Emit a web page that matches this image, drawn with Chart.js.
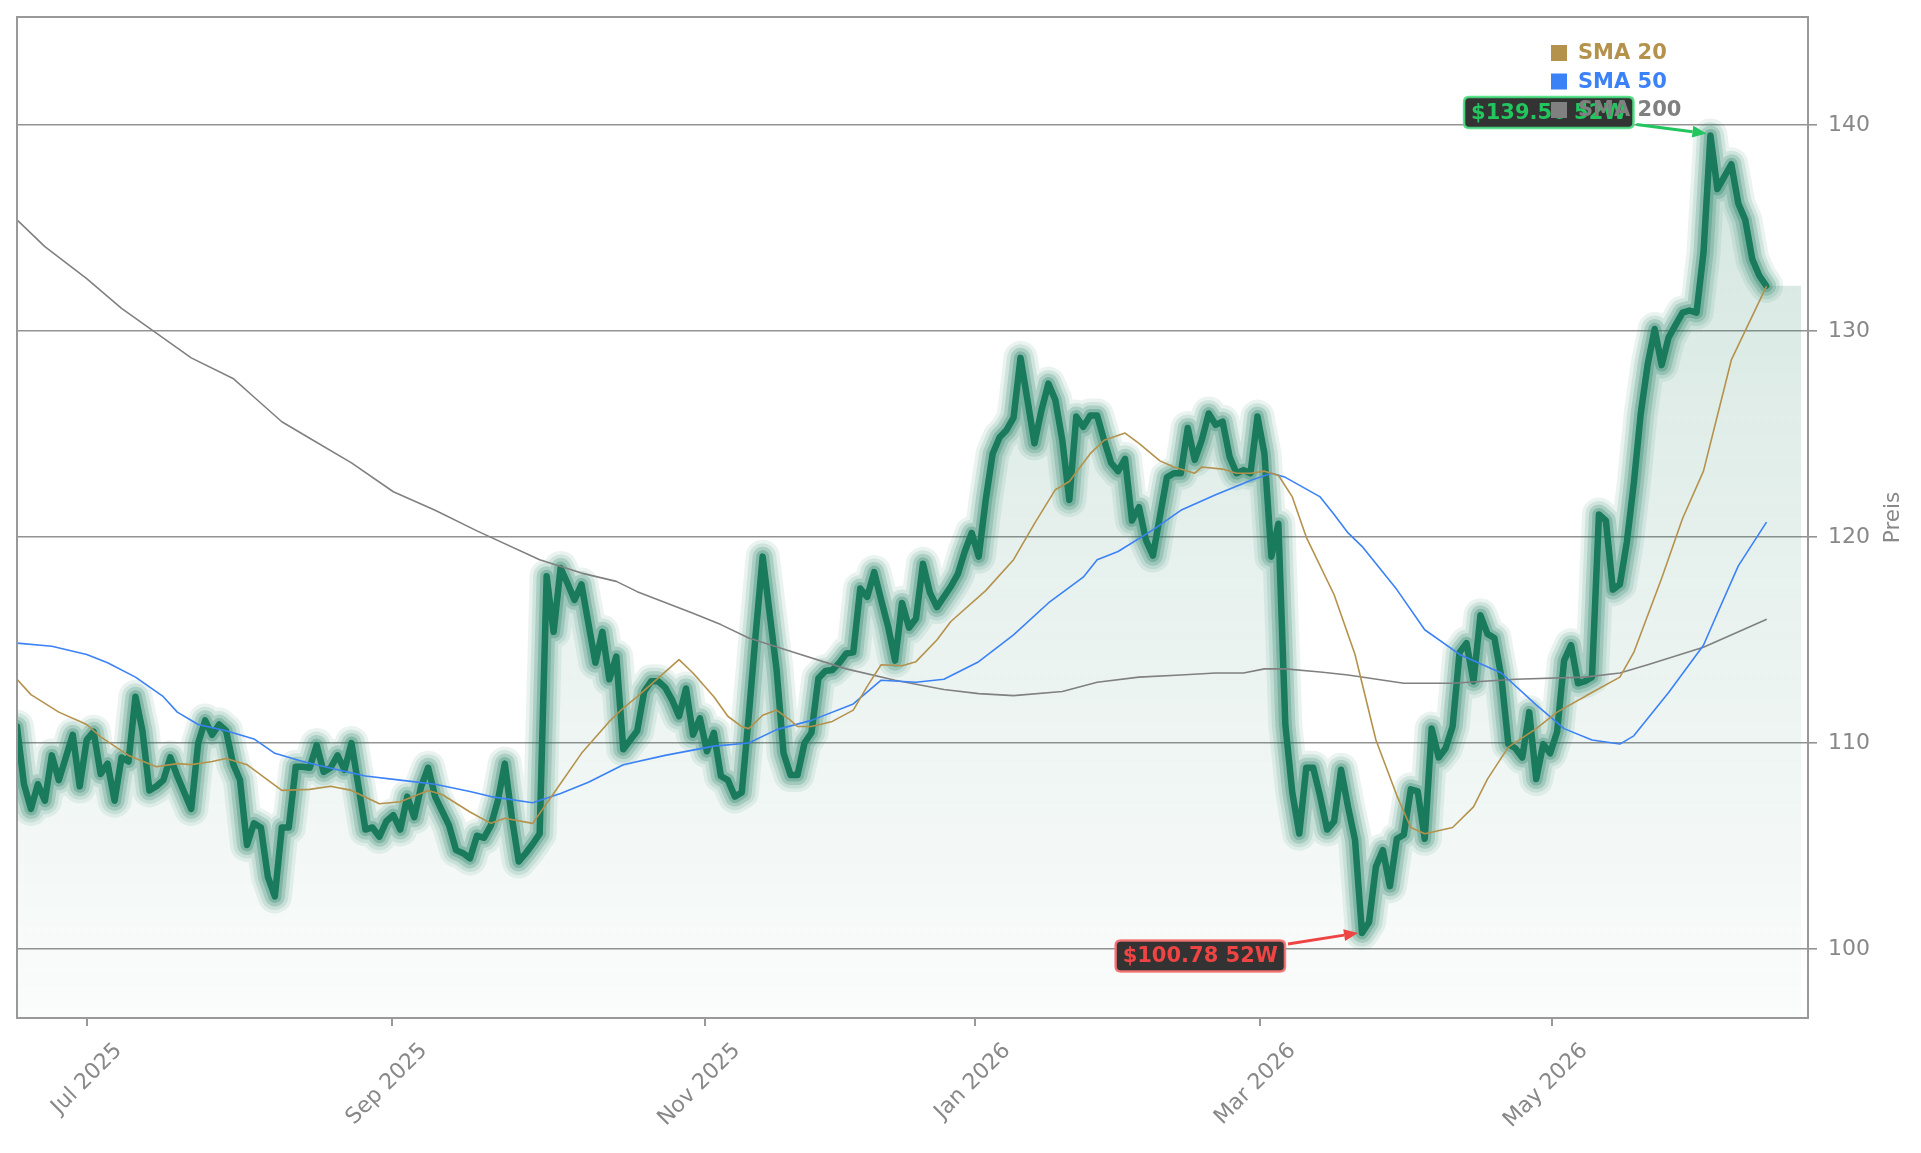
<!DOCTYPE html>
<html>
<head>
<meta charset="utf-8">
<script src="https://cdn.jsdelivr.net/npm/chart.js@4.4.1/dist/chart.umd.min.js"></script>
<style>
  html, body { margin: 0; padding: 0; background: #ffffff; }
  #wrap { width: 1921px; height: 1153px; }
</style>
</head>
<body>
<div id="wrap"><canvas id="c" width="1921" height="1153"></canvas></div>
<script>
// ---- data (trading-day index on x) ----
const price = [
  110.8, 108.0, 106.8, 108.0, 107.2, 109.4, 108.2, 109.3, 110.4, 107.9,
  110.15, 110.55, 108.5, 109.0, 107.2, 109.3, 109.1, 112.25, 110.6, 107.7,
  107.9, 108.2, 109.3, 108.4, 107.6, 106.8, 110.0, 111.1, 110.4, 110.9,
  110.6, 109.0, 108.2, 105.05, 106.1, 105.9, 103.5, 102.55, 105.9, 105.9,
  108.85, 108.85, 108.8, 109.9, 108.6, 108.8, 109.4, 108.7, 110.0, 107.9,
  105.8, 105.9, 105.45, 106.2, 106.5, 105.8, 107.4, 106.4, 107.9, 108.8,
  107.4, 106.7, 106.0, 104.8, 104.65, 104.4, 105.5, 105.4, 106.0, 107.2,
  109.0, 106.4, 104.25, 104.65, 105.1, 105.6, 118.1, 115.4, 118.5, 117.75,
  116.95, 117.7, 115.8, 113.9, 115.4, 113.1, 114.2, 109.7, 110.15, 110.6,
  112.5, 113.0, 113.0, 112.7, 112.1, 111.3, 112.65, 110.4, 111.2, 109.6,
  110.5, 108.4, 108.2, 107.4, 107.6, 111.3, 115.3, 119.05, 116.3, 113.55,
  109.5, 108.45, 108.45, 110.0, 110.5, 113.15, 113.5, 113.55, 113.9, 114.35,
  114.4, 117.5, 117.1, 118.3, 116.95, 115.65, 114.0, 116.8, 115.6, 116.05,
  118.7, 117.3, 116.6, 117.1, 117.6, 118.2, 119.3, 120.2, 119.05, 121.8,
  124.05, 124.85, 125.2, 125.8, 128.7, 126.65, 124.55, 126.15, 127.45, 126.65,
  124.7, 121.8, 125.85, 125.35, 125.9, 125.9, 124.7, 123.6, 123.2, 123.8,
  120.8, 121.45, 119.85, 119.1, 121.0, 122.9, 123.1, 123.1, 125.3, 123.75,
  124.7, 126.0, 125.45, 125.6, 123.9, 123.1, 123.25, 123.1, 125.85, 124.05,
  119.05, 120.65, 110.9, 107.6, 105.6, 108.8, 108.8, 107.4, 105.8, 106.2,
  108.7, 106.9, 105.3, 100.78, 101.3, 104.0, 104.8, 103.05, 105.35, 105.55,
  107.75, 107.65, 105.35, 110.7, 109.3, 109.75, 110.8, 114.4, 114.85, 113.0,
  116.2, 115.3, 115.1, 113.2, 109.95, 109.75, 109.3, 111.5, 108.25, 109.95,
  109.5, 110.55, 114.0, 114.75, 112.9, 113.0, 113.2, 121.1, 120.8, 117.45,
  117.7, 119.75, 122.6, 126.0, 128.4, 130.1, 128.35, 129.7, 130.3, 130.9,
  131.0, 130.9, 133.8, 139.5, 136.9, 137.5, 138.1, 136.2, 135.4, 133.5,
  132.7, 132.2
];

const sma20Idx = [0,2,6,10,12,16,20,23,25,28,30,33,36,38,42,45,48,52,55,59,61,65,68,70,74,77,81,85,87,89,92,95,97,100,102,104,105,107,109,111,112,114,117,120,122,124,127,129,132,134,139,143,146,149,151,154,156,159,161,164,166,169,170,173,175,177,179,181,183,185,189,192,195,198,200,202,206,209,211,214,218,221,226,230,232,236,239,242,246,251];
const sma20 = [113.1,112.35,111.5,110.9,110.3,109.4,108.85,109.0,108.95,109.1,109.25,108.95,108.2,107.7,107.75,107.9,107.7,107.05,107.15,107.7,107.5,106.65,106.1,106.35,106.1,107.55,109.5,111.05,111.7,112.25,113.15,114.05,113.4,112.25,111.3,110.8,110.7,111.35,111.6,111.1,110.8,110.8,111.05,111.6,112.75,113.8,113.75,113.95,115.0,115.9,117.4,118.9,120.65,122.3,122.7,124.05,124.7,125.05,124.55,123.7,123.4,123.1,123.4,123.3,123.1,123.1,123.2,123.0,121.95,120.0,117.2,114.3,110.15,107.45,105.9,105.6,105.9,106.9,108.25,109.8,110.7,111.5,112.45,113.2,114.4,118.0,120.9,123.2,128.6,132.15];

const sma50Idx = [0,5,10,13,17,21,23,26,30,34,37,41,46,50,55,60,65,68,74,78,82,87,93,100,105,109,114,120,124,129,133,138,143,148,153,155,158,163,167,172,177,180,182,187,189,191,193,198,202,207,213,218,222,226,230,232,237,242,244,247,251];
const sma50 = [114.85,114.7,114.3,113.9,113.2,112.25,111.5,110.9,110.6,110.2,109.5,109.1,108.7,108.4,108.2,108.0,107.65,107.4,107.1,107.55,108.1,108.95,109.4,109.85,110.0,110.65,111.1,111.9,113.05,112.95,113.1,113.95,115.25,116.8,118.05,118.9,119.3,120.35,121.3,122.05,122.75,123.1,122.9,121.95,121.1,120.2,119.55,117.45,115.5,114.3,113.4,111.85,110.7,110.15,109.95,110.35,112.45,114.75,116.3,118.6,120.7];

const sma200Idx = [0,4,10,15,20,25,31,34,38,42,48,54,60,66,75,81,86,89,97,101,105,112,119,126,133,138,143,150,155,161,167,172,176,179,182,187,191,199,206,215,225,230,234,242,251];
const sma200 = [135.4,134.1,132.55,131.1,129.9,128.7,127.7,126.8,125.6,124.8,123.6,122.2,121.3,120.3,118.9,118.25,117.85,117.35,116.3,115.75,115.1,114.35,113.6,113.05,112.6,112.4,112.3,112.5,112.95,113.2,113.3,113.4,113.4,113.6,113.6,113.45,113.3,112.9,112.9,113.1,113.2,113.4,113.8,114.65,116.0];

const tickIdx = [10, 53.8, 98.7, 137.5, 178.4, 220.3];
const tickLabels = ['Jul 2025', 'Sep 2025', 'Nov 2025', 'Jan 2026', 'Mar 2026', 'May 2026'];
const yTicks = [100, 110, 120, 130, 140];
const fillEndIdx = 256;
const axisLabel = 'Preis';

// ---- build ----
const FONT = '"DejaVu Sans", sans-serif';
Chart.defaults.font.family = FONT;

const GREEN = 'rgb(26,122,92)';
const pricePts = price.map((v, i) => ({ x: i, y: v }));
const fillPts = pricePts.concat([{ x: fillEndIdx, y: price[price.length - 1] }]);
const toPts = (idx, vals) => idx.map((x, i) => ({ x: x, y: vals[i] }));

const base = { pointRadius: 0, pointHoverRadius: 0, tension: 0, fill: false,
  borderJoinStyle: 'round', borderCapStyle: 'round', clip: 0 };

const glow = [
  { w: 34, a: 0.09 }, { w: 27, a: 0.12 }, { w: 20, a: 0.20 }, { w: 13, a: 0.28 }
];

const datasets = [
  Object.assign({}, base, { label: 'SMA 20', data: toPts(sma20Idx, sma20), borderColor: '#b5924c', borderWidth: 1.6, order: 0, inLegend: true }),
  Object.assign({}, base, { label: 'SMA 50', data: toPts(sma50Idx, sma50), borderColor: '#3b82f6', borderWidth: 1.6, order: 1, inLegend: true }),
  Object.assign({}, base, { label: 'SMA 200', data: toPts(sma200Idx, sma200), borderColor: '#808080', borderWidth: 1.6, order: 2, inLegend: true }),
  Object.assign({}, base, { label: 'Kurs', data: pricePts, borderColor: GREEN, borderWidth: 6.5, order: 3 })
];
glow.slice().reverse().forEach((g, j) => {
  datasets.push(Object.assign({}, base, { label: 'glow' + j, data: pricePts,
    borderColor: 'rgba(26,122,92,' + g.a + ')', borderWidth: g.w, order: 4 + j }));
});
datasets.push(Object.assign({}, base, {
  label: 'area', data: fillPts, borderWidth: 0, borderColor: 'rgba(0,0,0,0)', fill: 'start', order: 20,
  backgroundColor: (ctx) => {
    const ca = ctx.chart.chartArea;
    if (!ca) return 'rgba(26,122,92,0.08)';
    const g = ctx.chart.ctx.createLinearGradient(0, ca.top, 0, ca.bottom);
    g.addColorStop(0, 'rgba(26,122,92,0.21)');
    g.addColorStop(1, 'rgba(26,122,92,0.02)');
    return g;
  }
}));

const framePlugin = {
  id: 'frame',
  afterDatasetsDraw(chart) {
    const { ctx, chartArea: a } = chart;
    ctx.save();
    ctx.strokeStyle = '#999999';
    ctx.lineWidth = 2;
    ctx.strokeRect(a.left, a.top, a.right - a.left, a.bottom - a.top);
    ctx.restore();
  }
};

function rr(ctx, x, y, w, h, r) {
  ctx.beginPath();
  ctx.moveTo(x + r, y);
  ctx.lineTo(x + w - r, y); ctx.quadraticCurveTo(x + w, y, x + w, y + r);
  ctx.lineTo(x + w, y + h - r); ctx.quadraticCurveTo(x + w, y + h, x + w - r, y + h);
  ctx.lineTo(x + r, y + h); ctx.quadraticCurveTo(x, y + h, x, y + h - r);
  ctx.lineTo(x, y + r); ctx.quadraticCurveTo(x, y, x + r, y);
  ctx.closePath();
}

const extremesPlugin = {
  id: 'extremes',
  afterDatasetsDraw(chart) {
    const { ctx } = chart;
    const xs = chart.scales.x, ys = chart.scales.y;
    const hi = Math.max(...price), lo = Math.min(...price);
    const mark = (i, v, col, bcol, dir) => {
      const px = xs.getPixelForValue(i), py = ys.getPixelForValue(v);
      const text = '$' + v.toFixed(2) + ' 52W';
      ctx.save();
      ctx.font = 'bold 21px ' + FONT;
      const tw = ctx.measureText(text).width;
      const bw = tw + 14, bh = 31;
      const bx = px - 77 - bw, by = py + dir * 23 - bh / 2;
      rr(ctx, bx, by, bw, bh, 5);
      ctx.fillStyle = '#333333';
      ctx.fill();
      ctx.lineWidth = 2.5;
      ctx.strokeStyle = bcol;
      ctx.stroke();
      ctx.fillStyle = col;
      ctx.textBaseline = 'middle';
      ctx.textAlign = 'left';
      ctx.fillText(text, bx + 7, by + bh / 2 + 1);
      // arrow
      const sx = bx + bw + 3, sy = py + dir * 11;
      const ex = px - 4, ey = py + (dir < 0 ? -2 : 0);
      const ang = Math.atan2(ey - sy, ex - sx);
      const hl = 14, hw = 6;
      const bxp = ex - hl * Math.cos(ang), byp = ey - hl * Math.sin(ang);
      ctx.strokeStyle = col;
      ctx.lineWidth = 3;
      ctx.beginPath(); ctx.moveTo(sx, sy); ctx.lineTo(bxp, byp); ctx.stroke();
      ctx.fillStyle = col;
      ctx.beginPath();
      ctx.moveTo(ex, ey);
      ctx.lineTo(bxp + hw * Math.sin(ang), byp - hw * Math.cos(ang));
      ctx.lineTo(bxp - hw * Math.sin(ang), byp + hw * Math.cos(ang));
      ctx.closePath(); ctx.fill();
      ctx.restore();
    };
    mark(price.indexOf(hi), hi, '#22c55e', 'rgba(74,222,128,0.9)', -1);
    mark(price.indexOf(lo), lo, '#ef4444', 'rgba(248,113,113,0.9)', 1);
  }
};

const legendPlugin = {
  id: 'customLegend',
  afterDraw(chart) {
    const { ctx, chartArea: a } = chart;
    const items = chart.data.datasets.filter(d => d.inLegend);
    ctx.save();
    ctx.font = 'bold 21px ' + FONT;
    ctx.textBaseline = 'middle';
    ctx.textAlign = 'left';
    items.forEach((d, j) => {
      const cy = a.top + 36 + j * 28.5;
      const lx = a.right - 257;
      ctx.fillStyle = d.borderColor;
      ctx.fillRect(lx, cy - 8, 16, 16);
      ctx.fillText(d.label, lx + 27, cy + 1);
    });
    // axis title (reads bottom-to-top)
    ctx.font = '21.5px ' + FONT;
    ctx.fillStyle = '#888888';
    ctx.textAlign = 'center';
    ctx.translate(1893, (a.top + a.bottom) / 2);
    ctx.rotate(-Math.PI / 2);
    ctx.fillText(axisLabel, 0, 0);
    ctx.restore();
  }
};

new Chart(document.getElementById('c'), {
  type: 'line',
  data: { datasets: datasets },
  options: {
    responsive: false,
    animation: false,
    devicePixelRatio: 1,
    layout: { padding: { left: 17, top: 17, right: 0, bottom: 0 } },
    plugins: { legend: { display: false }, tooltip: { enabled: false } },
    scales: {
      x: {
        type: 'linear', min: 0, max: 257,
        afterBuildTicks: (s) => { s.ticks = tickIdx.map(v => ({ value: v })); },
        afterFit: (s) => { s.height = 135; s.paddingLeft = 0; s.paddingRight = 0; },
        grid: { display: true, drawOnChartArea: false, drawTicks: true, tickLength: 8, color: '#999999', lineWidth: 2 },
        border: { display: false },
        ticks: {
          autoSkip: false, maxRotation: 45, minRotation: 45, padding: 12, labelOffset: 32,
          color: '#888888', font: { size: 22 },
          callback: (v) => { const i = tickIdx.indexOf(v); return i >= 0 ? tickLabels[i] : ''; }
        }
      },
      y: {
        position: 'right', min: 96.65, max: 145.25,
        afterBuildTicks: (s) => { s.ticks = yTicks.map(v => ({ value: v })); },
        afterFit: (s) => { s.width = 113; s.paddingTop = 0; s.paddingBottom = 0; },
        grid: { color: '#939393', lineWidth: 1.6, tickLength: 9, drawTicks: true },
        border: { display: false },
        ticks: { padding: 11, color: '#888888', font: { size: 22 }, callback: (v) => String(v) }
      }
    }
  },
  plugins: [framePlugin, extremesPlugin, legendPlugin]
});
</script>
</body>
</html>
